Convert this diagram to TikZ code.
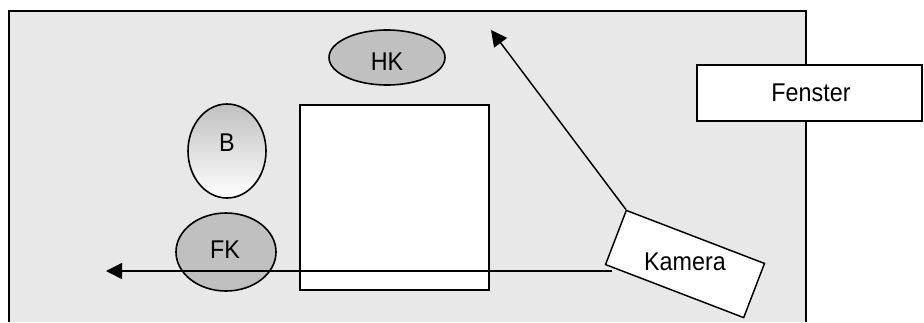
\documentclass[tikz,border=0pt]{standalone}
\usepackage{fontspec}
\usepackage{graphicx}
\setmainfont{Liberation Sans}
\usetikzlibrary{arrows.meta,shapes.geometric}
\definecolor{bggray}{HTML}{E8E8E8}
\definecolor{elgray}{HTML}{C0C0C0}
\newcommand{\txt}[1]{\scalebox{1}[1.1]{#1}}
\tikzset{
  fnt/.style={font=\fontsize{17.5}{20}\selectfont},
  lbl/.style={fnt, inner sep=0pt},
  ell/.style={ellipse, draw=black, line width=1.2pt, inner sep=0pt},
  box/.style={rectangle, draw=black, line width=1.1pt, fill=white, inner sep=0pt},
  arr/.style={line width=1.1pt, -{Triangle[length=12pt,width=12pt]}}
}
\begin{document}
\begin{tikzpicture}[x=0.75pt,y=-0.75pt]
\useasboundingbox (0,0) rectangle (924,322);
% room
\fill[bggray] (9,11) rectangle (806,322);
\draw[line width=1.3pt] (9,322) -- (9,11) -- (806,11) -- (806,322);
% window
\node[box, minimum width=168.75pt, minimum height=42pt] (fenster) at (809.5,93) {};
\node[lbl] (fenstertext) at (811,93) {\txt{Fenster}};
% objects
\node[ell, fill=elgray, minimum width=87pt, minimum height=41.25pt] (hk) at (387,57.5) {};
\node[lbl] (hktext) at (387,62) {\txt{HK}};
\node[ell, top color=elgray, bottom color=white, minimum width=58.5pt, minimum height=70.5pt] (b) at (227,151) {};
\node[lbl] (btext) at (227,143) {\txt{B}};
\node[ell, fill=elgray, minimum width=75pt, minimum height=58.5pt] (fk) at (226,252) {};
\node[lbl] (fktext) at (225,250) {\txt{FK}};
\node[box, minimum width=141.75pt, minimum height=138.75pt] (tisch) at (394.5,197.5) {};
% camera
\node[box, rotate=-21, minimum width=111pt, minimum height=43.5pt] (kam) at (685,264) {};
\node[lbl] (kamtext) at (685,262) {\txt{Kamera}};
% arrows
\coordinate (hstart) at (612,271);
\coordinate (htip) at (106,271);
\coordinate (dtip) at (491,30);
\draw[arr] (hstart) -- (htip);
\draw[arr] (kam.north west) -- (dtip);
\end{tikzpicture}
\end{document}
